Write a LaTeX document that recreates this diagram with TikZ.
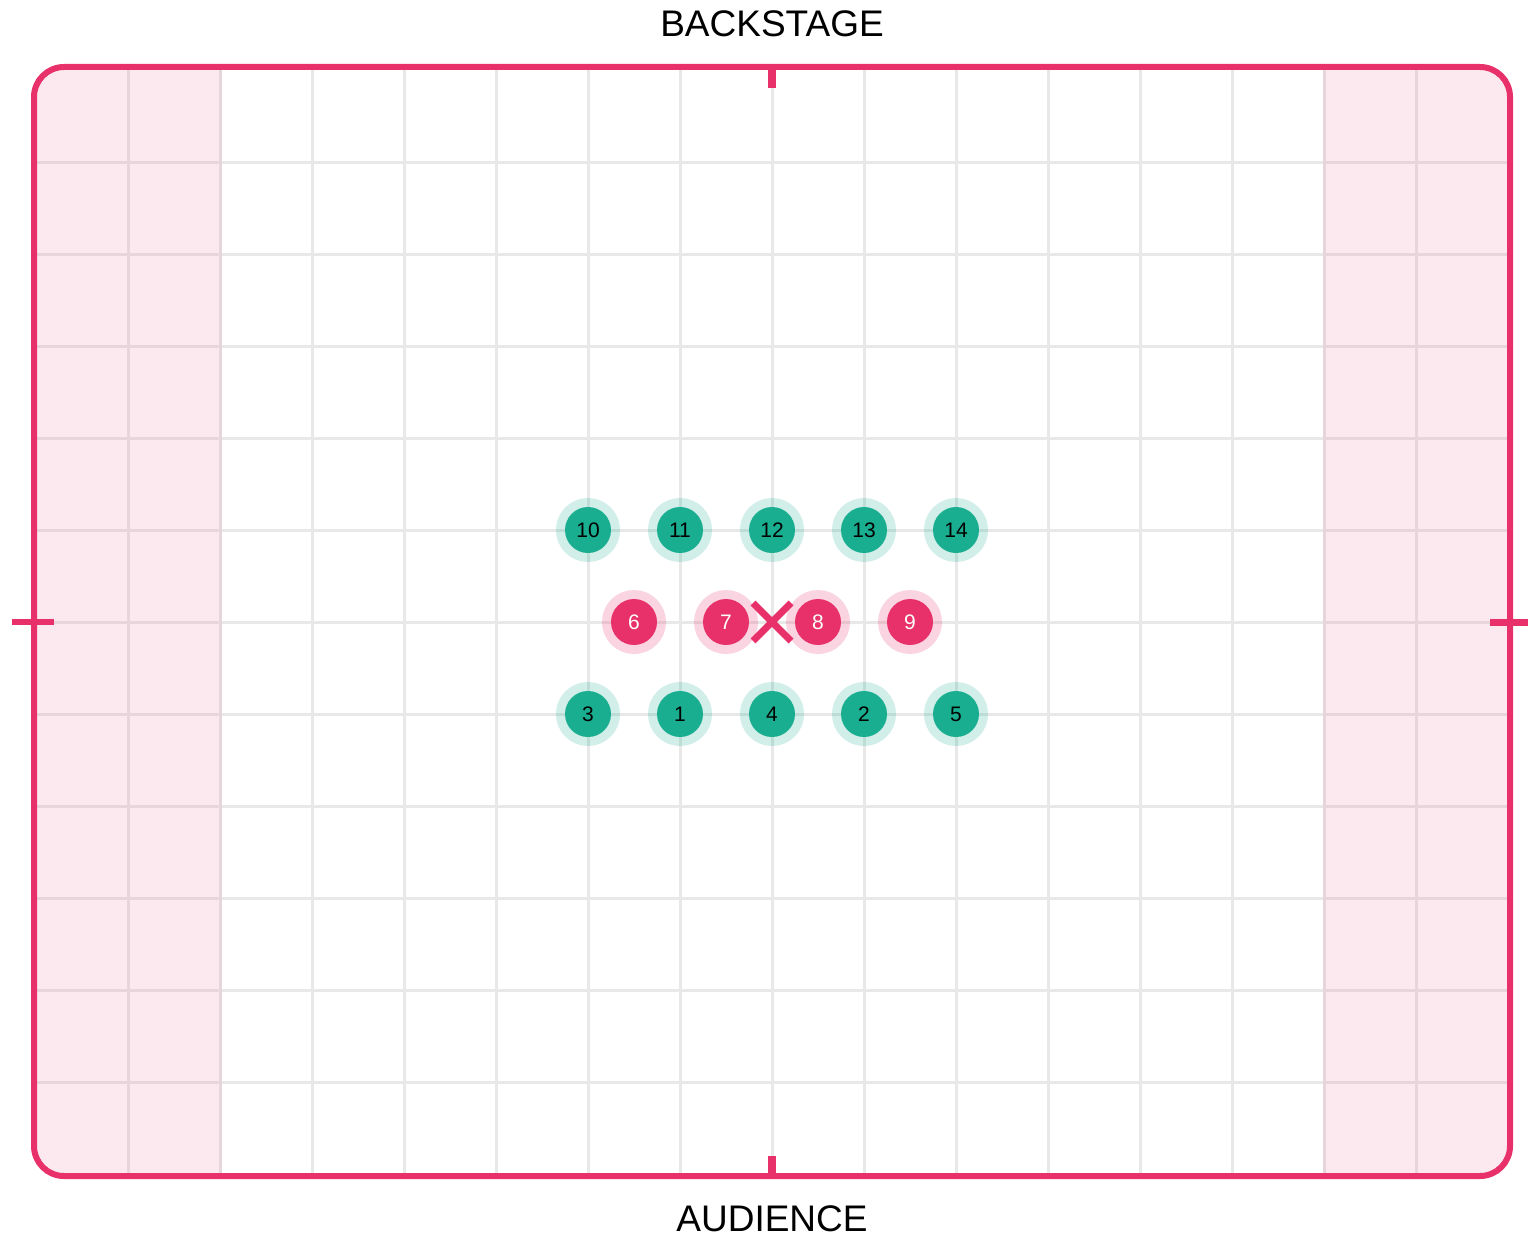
\documentclass[tikz,border=0pt]{standalone}
\usepackage{fontspec}
\setmainfont{Liberation Sans}
\definecolor{stagered}{HTML}{E8306A}
\definecolor{pgreen}{HTML}{1AAE91}
\definecolor{pinkzone}{HTML}{FCE8EF}
\definecolor{gridgrey}{HTML}{E8E8E8}
\definecolor{gridpink}{HTML}{E6D6DC}
\begin{document}
\begin{tikzpicture}[x=1pt,y=-1pt,
  gridline/.style={gridgrey,line width=3pt},
  gridlinepink/.style={gridpink,line width=3pt},
  border/.style={stagered,line width=6pt},
  tick/.style={stagered,line width=8pt},
  gplayer/.style={circle,fill=pgreen,minimum size=46pt,inner sep=0pt,text=black,
     font=\fontsize{21}{24}\selectfont,
     preaction={draw=pgreen,draw opacity=0.2,line width=18pt}},
  rplayer/.style={circle,fill=stagered,minimum size=46pt,inner sep=0pt,text=white,
     font=\fontsize{21}{24}\selectfont,
     preaction={draw=stagered,draw opacity=0.2,line width=18pt}},
  label/.style={font=\fontsize{37}{40}\selectfont,text=black}]
\useasboundingbox (0,0) rectangle (1528,1239);
\fill[white] (0,0) rectangle (1528,1239);
% white centre grid
\begin{scope}
  \clip (220,67) rectangle (1324,1176);
  \foreach \xx in {220,312,...,1324} \draw[gridline] (\xx,67) -- (\xx,1176);
  \foreach \yy in {162,254,...,1082} \draw[gridline] (34,\yy) -- (1510,\yy);
\end{scope}
% pink wing zones
\begin{scope}
  \clip[rounded corners=30pt] (34,67) rectangle (1510,1176);
  \fill[pinkzone] (34,67) rectangle (220,1176);
  \fill[pinkzone] (1324,67) rectangle (1510,1176);
  \begin{scope}
    \clip (34,67) rectangle (218.5,1176) (1325.5,67) rectangle (1510,1176);
    \foreach \xx in {128,1416} \draw[gridlinepink] (\xx,67) -- (\xx,1176);
    \foreach \yy in {162,254,...,1082} \draw[gridlinepink] (34,\yy) -- (1510,\yy);
  \end{scope}
  \foreach \xx in {220,1324} \draw[gridlinepink] (\xx,67) -- (\xx,1176);
\end{scope}
% border
\draw[border,rounded corners=30pt] (34,67) rectangle (1510,1176);
% centre marks
\draw[tick] (772,70) -- (772,88);
\draw[tick] (772,1156) -- (772,1174);
\draw[tick,line width=6pt] (12,622) -- (54,622);
\draw[tick,line width=7pt] (1490,622) -- (1528,622);
% labels
\node[label] (back) at (772,24) {BACKSTAGE};
\node[label] (aud) at (772,1219) {AUDIENCE};
% players
\node[gplayer] (p10) at (588,530) {10};
\node[gplayer] (p11) at (680,530) {11};
\node[gplayer] (p12) at (772,530) {12};
\node[gplayer] (p13) at (864,530) {13};
\node[gplayer] (p14) at (956,530) {14};
\node[gplayer] (p3) at (588,714) {3};
\node[gplayer] (p1) at (680,714) {1};
\node[gplayer] (p4) at (772,714) {4};
\node[gplayer] (p2) at (864,714) {2};
\node[gplayer] (p5) at (956,714) {5};
\node[rplayer] (p6) at (634,622) {6};
\node[rplayer] (p7) at (726,622) {7};
\node[rplayer] (p8) at (818,622) {8};
\node[rplayer] (p9) at (910,622) {9};
% centre cross
\coordinate (cx) at (772,622);
\draw[stagered,line width=7pt] ([shift={(-19,-19)}]cx) -- ([shift={(19,19)}]cx);
\draw[stagered,line width=7pt] ([shift={(-19,19)}]cx) -- ([shift={(19,-19)}]cx);
\end{tikzpicture}
\end{document}
